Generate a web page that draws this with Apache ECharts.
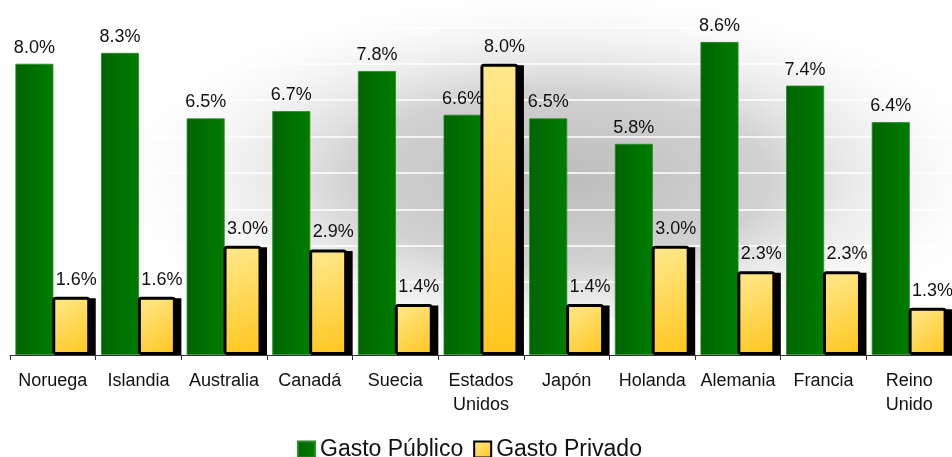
<!DOCTYPE html>
<html>
<head>
<meta charset="utf-8">
<script src="https://cdn.jsdelivr.net/npm/echarts@6/dist/echarts.min.js"></script>
<style>
html,body{margin:0;padding:0;background:#fff;}
#c{width:952px;height:457px;}
</style>
</head>
<body>
<div id="c"></div>
<script>
const categories = ['Noruega','Islandia','Australia','Canadá','Suecia','Estados Unidos','Japón','Holanda','Alemania','Francia','Reino Unido'];
const gastoPublico = [8.0, 8.3, 6.5, 6.7, 7.8, 6.6, 6.5, 5.8, 8.6, 7.4, 6.4];
const gastoPrivado = [1.6, 1.6, 3.0, 2.9, 1.4, 8.0, 1.4, 3.0, 2.3, 2.3, 1.3];
const seriesNames = ['Gasto Público', 'Gasto Privado'];

const FONT = 'Liberation Sans, Arial, sans-serif';
const BAR_W = 38;
const GAP_PX = -1.14; // -3% of bar width
const chart = echarts.init(document.getElementById('c'), null, {renderer:'canvas'});
const fmt = p => p.value.toFixed(1) + '%';

const yellowFill = new echarts.graphic.LinearGradient(0, 0, 1, 1, [
  {offset: 0, color: '#ffe98f'},
  {offset: 1, color: '#ffc61c'}
]);

chart.setOption({
  animation: false,
  backgroundColor: '#ffffff',
  graphic: [{
    type: 'circle',
    z: -10,
    silent: true,
    x: 560, y: 178,
    scaleX: 2.4, scaleY: 1,
    shape: {cx: 0, cy: 0, r: 195},
    style: {
      fill: new echarts.graphic.RadialGradient(0.5, 0.5, 0.5, [
        {offset: 0, color: '#bcbcbc'},
        {offset: 0.45, color: '#d2d2d2'},
        {offset: 1, color: 'rgba(255,255,255,0)'}
      ])
    }
  }],
  legend: {
    data: [
      {name: seriesNames[0], icon: 'rect'},
      {name: seriesNames[1], icon: 'rect'}
    ],
    top: 433,
    left: 292,
    itemWidth: 17,
    itemHeight: 16,
    itemGap: 10,
    textStyle: {fontFamily: FONT, fontSize: 23, color: '#111'}
  },
  grid: {left: 10, right: 0, top: 27.4, bottom: 102, containLabel: false},
  xAxis: {
    type: 'category',
    data: categories,
    axisLine: {show: true, lineStyle: {color: '#333', width: 1}},
    axisTick: {show: true, length: 5, lineStyle: {color: '#333'}},
    axisLabel: {
      interval: 0,
      fontFamily: FONT, fontSize: 18, color: '#111',
      lineHeight: 24, margin: 14,
      formatter: v => v.replace(' ', '\n')
    }
  },
  yAxis: {
    type: 'value',
    min: 0, max: 9, interval: 1,
    axisLine: {show: false},
    axisTick: {show: false},
    axisLabel: {show: false},
    splitLine: {show: true, lineStyle: {color: '#ffffff', width: 1.5}}
  },
  series: [
    {
      name: seriesNames[0],
      type: 'bar',
      data: gastoPublico,
      barWidth: BAR_W,
      barGap: '-3%',
      itemStyle: {
        color: new echarts.graphic.LinearGradient(0, 0, 1, 0, [
          {offset: 0, color: '#006400'},
          {offset: 1, color: '#007c00'}
        ]),
        borderColor: '#2a8a2a',
        borderWidth: 0.8
      },
      label: {
        show: true, position: 'top', distance: 7,
        fontFamily: FONT, fontSize: 18, color: '#111',
        formatter: fmt
      }
    },
    {
      name: 'sombra',
      type: 'custom',
      silent: true,
      data: gastoPrivado.map((v, i) => [i, v]),
      encode: {x: 0, y: 1},
      renderItem: function (params, api) {
        const top = api.coord([api.value(0), api.value(1)]);
        const base = api.coord([api.value(0), 0]);
        // yellow bar left edge relative to category centre
        const total = BAR_W * 2 + GAP_PX;
        const x = top[0] - total / 2 + BAR_W + GAP_PX;
        return {
          type: 'rect',
          shape: {x: x - 1.5 + 4, y: top[1] - 1.5 + 3, width: BAR_W + 3, height: base[1] - top[1] - 1.5},
          style: {fill: '#000'}
        };
      }
    },
    {
      name: seriesNames[1],
      type: 'bar',
      data: gastoPrivado,
      barWidth: BAR_W,
      itemStyle: {
        color: yellowFill,
        borderColor: '#000',
        borderWidth: 3,
        borderRadius: 2
      },
      label: {
        show: true, position: 'top', distance: 8,
        offset: [5, 0],
        fontFamily: FONT, fontSize: 18, color: '#111',
        formatter: fmt
      }
    }
  ]
});
</script>
</body>
</html>
